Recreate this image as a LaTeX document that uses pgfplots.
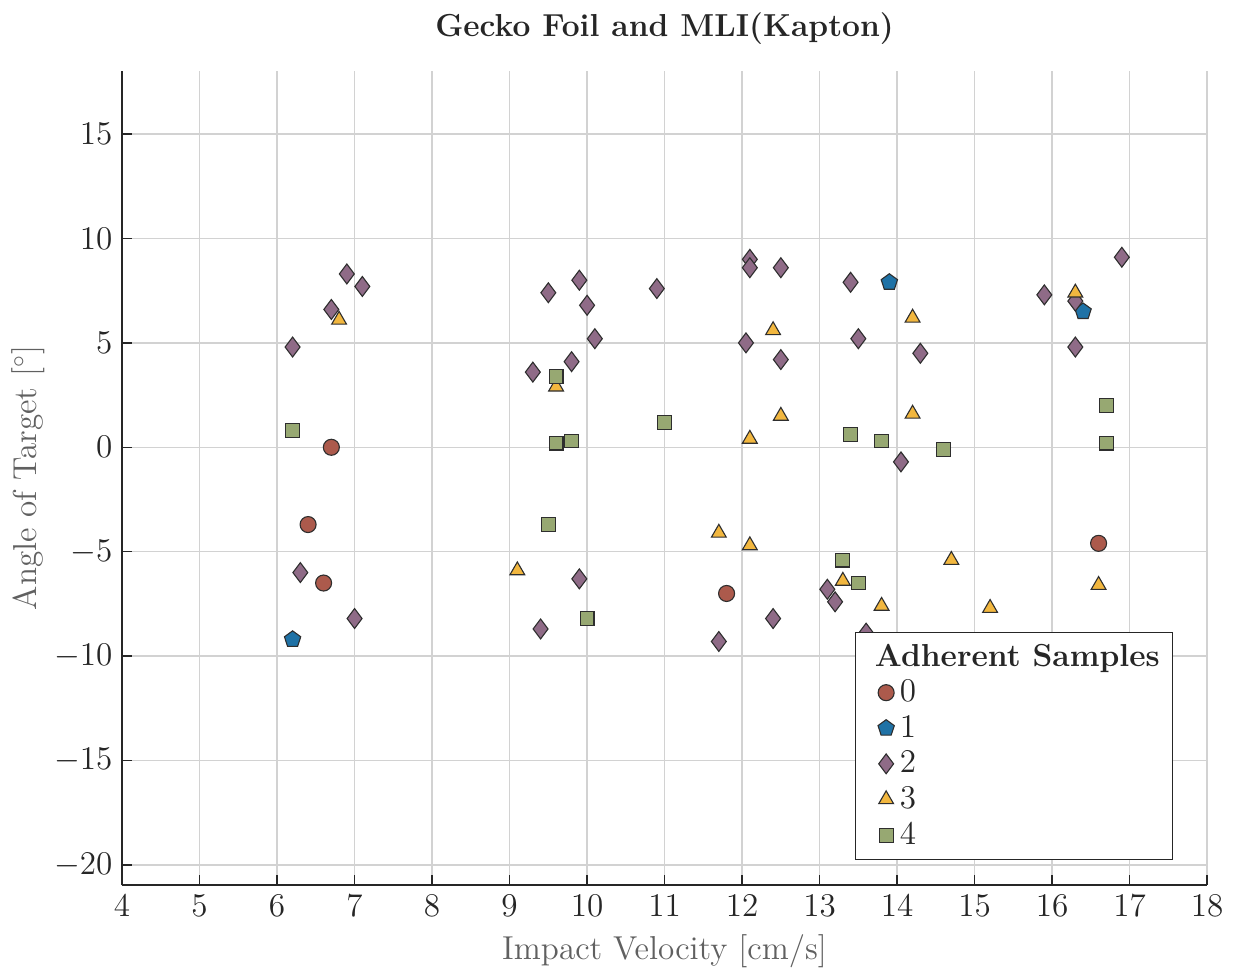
\documentclass[border=0pt]{standalone}
\usepackage{pgfplots}
\pgfplotsset{compat=1.18}
\definecolor{c0}{HTML}{AC5A4C}
\definecolor{c1}{HTML}{1F72A6}
\definecolor{c2}{HTML}{8F6B87}
\definecolor{c3}{HTML}{F2B73F}
\definecolor{c4}{HTML}{97A872}
\definecolor{edge}{HTML}{2E2E2E}
\definecolor{txt}{HTML}{262626}
\definecolor{lbl}{HTML}{606060}
\definecolor{gridc}{HTML}{D2D2D2}
\begin{document}
\begin{tikzpicture}
\begin{axis}[
  scale only axis, width=392.8pt, height=294.7pt,
  xmin=4, xmax=18, ymin=-20.96, ymax=18.02,
  xtick={4,...,18}, ytick={-20,-15,...,15},
  axis x line=bottom, axis y line=left,
  axis line style={-, txt, line width=0.6pt},
  grid=major, grid style={gridc, line width=0.5pt},
  tick align=inside, major tick length=3.5pt, tick style={txt, line width=0.5pt},
  ticklabel style={font=\fontsize{12}{14}\selectfont, text=txt},
  xlabel={Impact Velocity [cm/s]},
  ylabel={Angle of Target [$^\circ$]},
  xlabel style={at={(axis description cs:0.5,-0.0811)}, anchor=center, font=\fontsize{12}{14}\selectfont, text=lbl},
  ylabel style={at={(axis description cs:-0.0866,0.5)}, anchor=center, font=\fontsize{12}{14}\selectfont, text=lbl},
  legend cell align=left,
  legend style={at={(axis description cs:0.6756,0.0307)}, anchor=south west, draw=txt, fill=white, text=txt,
    font=\fontsize{12}{14}\selectfont, row sep=-0.6pt, inner xsep=2.5pt, inner ysep=2pt},
  only marks,
]
\addlegendimage{empty legend}
\addlegendentry{\hspace*{-9pt}\textbf{\fontsize{11.5}{14}\selectfont Adherent Samples}}
\addplot[mark=*, mark size=2.9pt, mark options={fill=c0, draw=edge, line width=0.4pt}] coordinates {
(6.7,0) (6.4,-3.7) (6.6,-6.5) (11.8,-7.0) (16.6,-4.6)};
\addlegendentry{0}
\addplot[mark=pentagon*, mark size=3.1pt, mark options={fill=c1, draw=edge, line width=0.4pt}] coordinates {
(6.2,-9.2) (13.9,7.9) (16.4,6.5)};
\addlegendentry{1}
\addplot[mark=diamond*, mark size=3.6pt, mark options={fill=c2, draw=edge, line width=0.4pt}] coordinates {
(6.2,4.8) (6.7,6.6) (6.9,8.3) (7.1,7.7) (6.3,-6.0) (7.0,-8.2)
(9.3,3.6) (9.5,7.4) (9.9,8.0) (10.0,6.8) (9.8,4.1) (10.1,5.2) (10.9,7.6) (9.9,-6.3) (9.4,-8.7)
(12.1,9.0) (12.1,8.6) (12.5,8.6) (12.05,5.0) (12.5,4.2) (13.4,7.9) (13.5,5.2) (14.3,4.5) (14.05,-0.7)
(11.7,-9.3) (12.4,-8.2) (13.1,-6.8) (13.2,-7.4) (13.6,-8.9)
(15.9,7.3) (16.3,7.0) (16.3,4.8) (16.9,9.1)};
\addlegendentry{2}
\addplot[mark=triangle*, mark size=3.1pt, mark options={fill=c3, draw=edge, line width=0.4pt}] coordinates {
(6.8,6.1) (9.6,2.9) (9.1,-5.9) (11.7,-4.1) (12.1,-4.7) (12.4,5.6) (12.5,1.5) (12.1,0.4)
(13.3,-6.4) (13.8,-7.6) (14.2,6.2) (14.2,1.6) (14.7,-5.4) (15.2,-7.7) (16.3,7.4) (16.6,-6.6)};
\addlegendentry{3}
\addplot[mark=square*, mark size=2.5pt, mark options={fill=c4, draw=edge, line width=0.4pt}] coordinates {
(6.2,0.8) (9.6,3.4) (9.6,0.2) (9.8,0.3) (9.5,-3.7) (10.0,-8.2) (11.0,1.2)
(13.3,-5.4) (13.5,-6.5) (13.4,0.6) (13.8,0.3) (14.6,-0.1) (16.7,2.0) (16.7,0.2)};
\addlegendentry{4}
\end{axis}
\node[anchor=center, text=txt, font=\bfseries\fontsize{11.5}{14}\selectfont] at ([yshift=15.2pt]current axis.north) {Gecko Foil and MLI(Kapton)};
\pgfresetboundingbox
\path ([shift={(-44.2pt,-32.2pt)}]current axis.south west) rectangle ([shift={(13pt,25.7pt)}]current axis.north east);
\end{tikzpicture}
\end{document}
